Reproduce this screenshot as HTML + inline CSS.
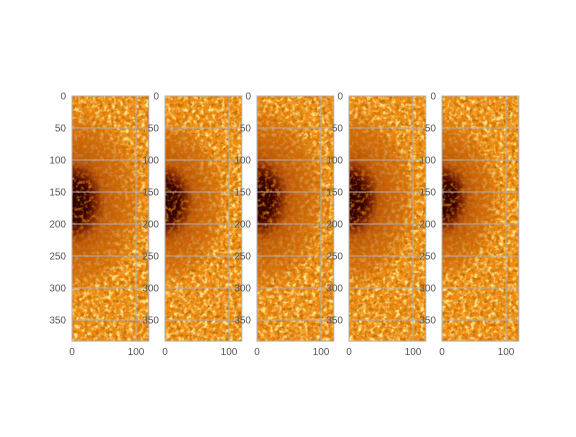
<!DOCTYPE html>
<html><head><meta charset="utf-8"><style>
body{margin:0;background:#fff}
svg text{font-family:"Liberation Sans",sans-serif;font-size:10px;fill:#555}
</style></head><body>
<svg id="c" width="576" height="432" xmlns="http://www.w3.org/2000/svg">
<defs>
<filter id="gran" x="0" y="0" width="100%" height="100%">
<feTurbulence type="fractalNoise" baseFrequency="0.24" numOctaves="2" seed="4" result="n"/>
<feColorMatrix in="n" type="matrix" values="0 0 0 0 1  0 0 0 0 0.82  0 0 0 0 0.3  3.2 0 0 0 -1.4"/>
</filter>
<filter id="dark" x="0" y="0" width="100%" height="100%">
<feTurbulence type="fractalNoise" baseFrequency="0.26" numOctaves="2" seed="9"/>
<feColorMatrix type="matrix" values="0 0 0 0 0.55  0 0 0 0 0.15  0 0 0 0 0  0 3 0 0 -1.4"/>
</filter>
<radialGradient id="spot" cx="0.5" cy="0.5" r="0.5">
<stop offset="0" stop-color="#2a0000"/>
<stop offset="0.22" stop-color="#3a0200"/>
<stop offset="0.32" stop-color="#6a1400" stop-opacity="0.9"/>
<stop offset="0.45" stop-color="#a83c00" stop-opacity="0.7"/>
<stop offset="0.8" stop-color="#c05000" stop-opacity="0.45"/>
<stop offset="1" stop-color="#d06000" stop-opacity="0"/>
</radialGradient>
</defs>
</svg>
<script>
const panelLefts=[72,165,257,349,442];
const spotRadiusX=[115,100,115,110,95];
const spotRadiusY=[150,135,150,145,130];
const spotCenterY=[165,165,160,160,160];
const yTicks=[0,50,100,150,200,250,300,350];
const xTicks=[0,100];
const xMax=120,yMax=383;
const top0=96,scale=0.64;
const svg=document.getElementById('c');
const NS='http://www.w3.org/2000/svg';
function mk(t,a){const e=document.createElementNS(NS,t);for(const k in a)e.setAttribute(k,a[k]);svg.appendChild(e);return e;}
panelLefts.forEach((L,i)=>{
  const X=v=>L+v*scale, Y=v=>top0+v*scale;
  const W=xMax*scale,H=yMax*scale;
  const cid='clip'+i;
  const cp=document.createElementNS(NS,'clipPath');cp.setAttribute('id',cid);
  const cr=document.createElementNS(NS,'rect');cr.setAttribute('x',L);cr.setAttribute('y',top0);cr.setAttribute('width',W);cr.setAttribute('height',H);
  cp.appendChild(cr);svg.querySelector('defs').appendChild(cp);
  const g=mk('g',{'clip-path':'url(#'+cid+')'});
  
  
  const add=(t,a)=>{const e=document.createElementNS(NS,t);for(const k in a)e.setAttribute(k,a[k]);g.appendChild(e);return e;};
  add('rect',{x:L,y:top0,width:W,height:H,fill:'#f08c10'});
  add('rect',{x:L,y:top0,width:W,height:H,filter:'url(#gran)'});
  const rx=spotRadiusX[i]*scale, ry=spotRadiusY[i]*scale;
  add('rect',{x:X(0)-rx,y:Y(spotCenterY[i])-ry,width:2*rx,height:2*ry,fill:'url(#spot)'});
  add('rect',{x:L,y:top0,width:W,height:H,filter:'url(#dark)'});
  yTicks.forEach(t=>{const l=mk('line',{x1:L,x2:L+W,y1:Y(t),y2:Y(t),stroke:'#b0b0b0','stroke-width':1});
    
    const tx=mk('text',{x:L-6,y:Y(t)+3.5,'text-anchor':'end'});tx.textContent=t;
    });
  xTicks.forEach(t=>{const l=mk('line',{x1:X(t),x2:X(t),y1:top0,y2:top0+H,stroke:'#b0b0b0','stroke-width':1});
    
    const tx=mk('text',{x:X(t),y:top0+H+14,'text-anchor':'middle'});tx.textContent=t;
    });
  const fr=mk('rect',{x:L,y:top0,width:W,height:H,fill:'none',stroke:'#b0b0b0','stroke-width':1});
  
  
});
</script>
</body></html>
